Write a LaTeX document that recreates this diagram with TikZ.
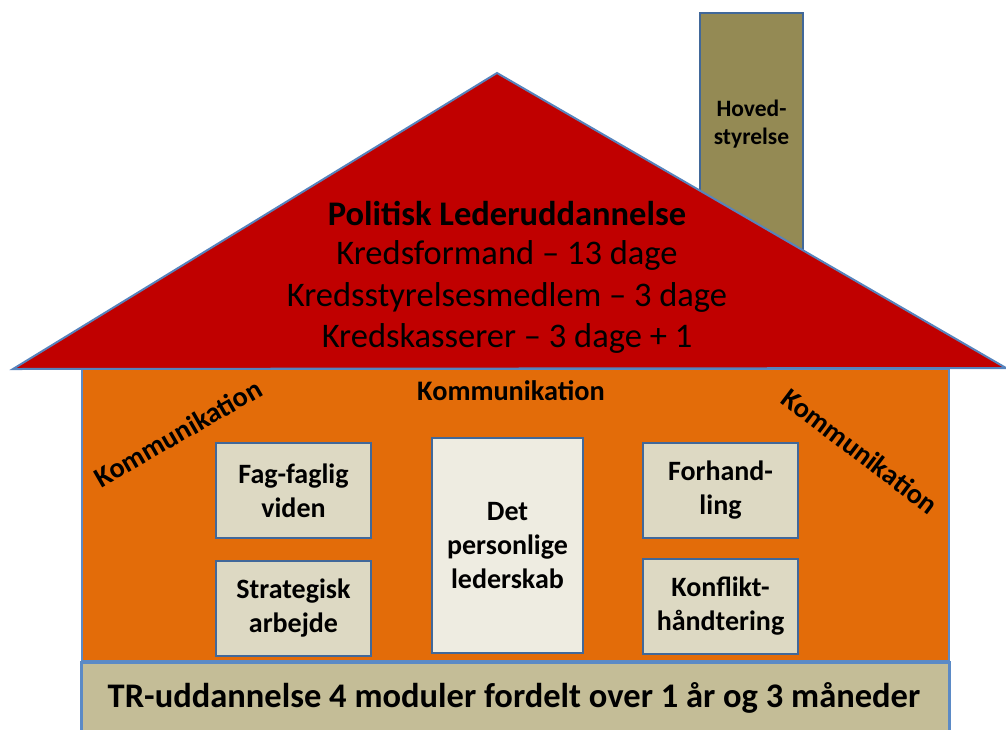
\documentclass[tikz,border=0pt]{standalone}
\usepackage{fontspec}
\setmainfont{Carlito}
\definecolor{roofred}{HTML}{C00000}
\definecolor{chim}{HTML}{948A54}
\definecolor{bodyor}{HTML}{E36C09}
\definecolor{bandc}{HTML}{C4BD97}
\definecolor{boxc}{HTML}{DDD9C3}
\definecolor{boxlight}{HTML}{EEECE1}
\definecolor{edgedark}{HTML}{41689A}
\definecolor{edgelight}{HTML}{5B8AC6}
\tikzset{
  housepart/.style={draw=edgedark, line width=2pt, line join=miter},
  smallbox/.style={draw=edgedark, line width=2.6pt, fill=boxc, inner sep=0pt,
    align=center, font=\fontsize{28}{34}\selectfont\bfseries},
  roofline/.style={anchor=base, font=\fontsize{34.5}{41}\selectfont},
  komm/.style={font=\fontsize{28.3}{34}\selectfont\bfseries},
}
\begin{document}
\begin{tikzpicture}[x=1pt,y=-1pt]
\useasboundingbox (0,0) rectangle (1006,729);
% chimney
\draw[housepart, fill=chim] (700,300) -- (700,13) -- (803,13) -- (803,300);
\node[align=center, font=\fontsize{23.5}{27.5}\selectfont\bfseries] (hoved) at (751.5,124) {Hoved-\\styrelse};
% body
\draw[housepart, draw=edgelight, fill=bodyor] (82,369) rectangle (949,661);
% roof
\draw[housepart, draw=edgelight!80!edgedark, fill=roofred] (13,369) -- (497,73) -- (1006,368) -- cycle;
% roof text
\node[roofline, font=\fontsize{34.5}{41}\selectfont\bfseries] (pol) at (507,225) {Politisk Lederuddannelse};
\node[roofline] (kf) at (507,264) {Kredsformand – 13 dage};
\node[roofline] (ks) at (507,306) {Kredsstyrelsesmedlem – 3 dage};
\node[roofline] (kk) at (507,347) {Kredskasserer – 3 dage + 1};
% band
\node[draw=edgelight, line width=2.5pt, fill=bandc, minimum width=868pt, minimum height=90pt, anchor=north west, inner sep=0pt] (band) at (80,661) {};
\node[anchor=base, font=\fontsize{34.5}{41}\selectfont\bfseries] (bandtxt) at (514,707) {TR-uddannelse 4 moduler fordelt over 1 år og 3 måneder};
% Kommunikation labels
\node[komm, anchor=base] (kmid) at (511,400) {Kommunikation};
\node[komm, rotate=30] (kleft) at (178,433) {Kommunikation};
\node[komm, rotate=-37] (kright) at (860,451) {Kommunikation};
% boxes
\node[smallbox, minimum width=155pt, minimum height=95pt] (fag) at (293.5,490.5) {Fag-faglig\\viden};
\node[smallbox, minimum width=155pt, minimum height=95pt] (strat) at (293.5,608.5) {Strategisk\\arbejde};
\node[smallbox, fill=boxlight, minimum width=151pt, minimum height=215pt] (det) at (507.5,545.5) {Det\\personlige\\lederskab};
\node[smallbox, minimum width=155pt, minimum height=95pt] (forh) at (720.5,490.5) {Forhand-\\ling};
\node[smallbox, minimum width=155pt, minimum height=95pt] (konf) at (720.5,606.5) {Konflikt-\\håndtering};
\end{tikzpicture}
\end{document}
